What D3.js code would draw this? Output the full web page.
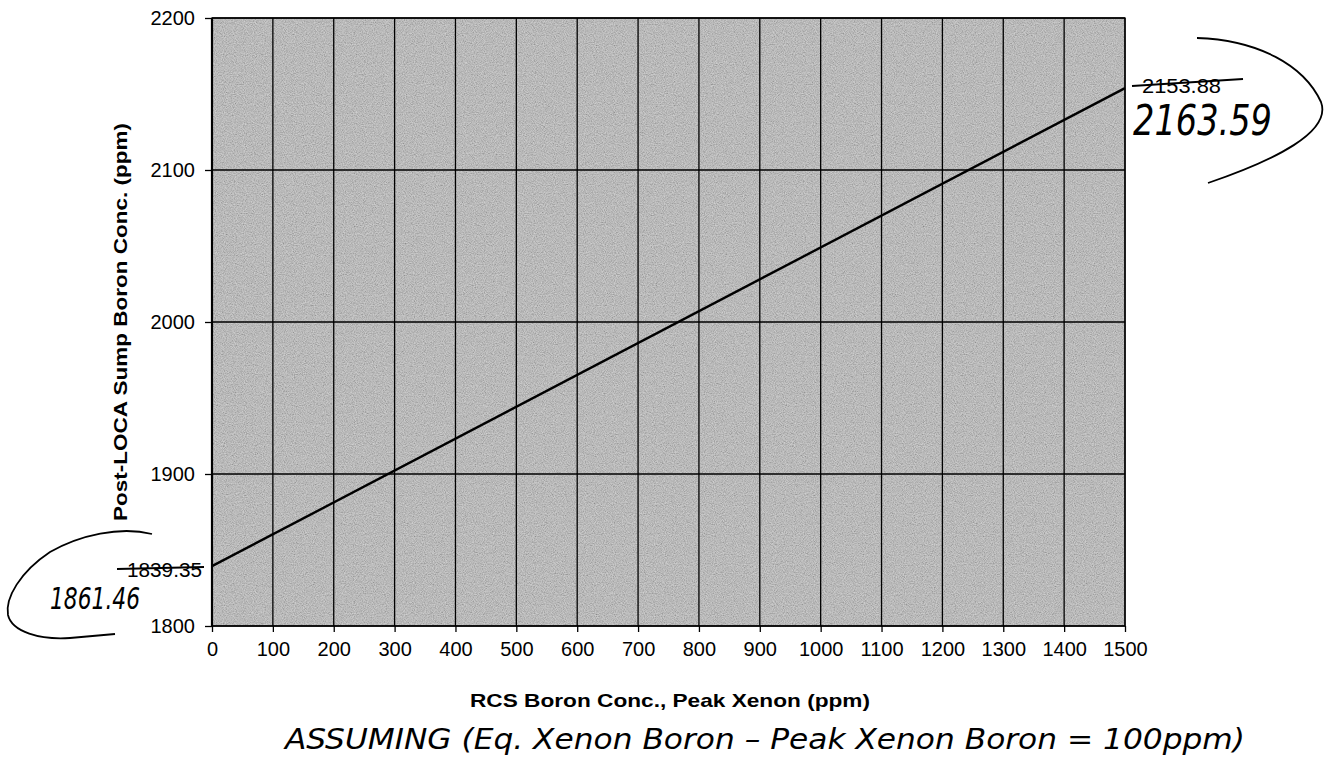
<!DOCTYPE html>
<html>
<head>
<meta charset="utf-8">
<script src="https://cdn.jsdelivr.net/npm/d3@7"></script>
<style>
  html, body { margin: 0; padding: 0; background: #ffffff; }
  svg { display: block; }
</style>
</head>
<body>
<svg id="chart" width="1325" height="776"></svg>
<script>
// ---- data ----
const rcsBoron = [0, 1500];                 // x: RCS Boron Conc., Peak Xenon (ppm)
const sumpBoron = [1839.35, 2153.88];       // y: Post-LOCA Sump Boron Conc. (ppm)
const xTicks = [0,100,200,300,400,500,600,700,800,900,1000,1100,1200,1300,1400,1500];
const yTicks = [1800,1900,2000,2100,2200];
const xTitle = "RCS Boron Conc., Peak Xenon (ppm)";
const yTitle = "Post-LOCA Sump Boron Conc. (ppm)";
const endLabels = ["1839.35", "2153.88"];     // printed end values (struck out)
const handLabels = ["1861.46", "2163.59"];    // handwritten corrections
const note = "ASSUMING (Eq. Xenon Boron \u2013 Peak Xenon Boron = 100ppm)";

// ---- layout ----
const svg = d3.select("#chart");
const L = 212, R = 1125, T = 18, B = 626;
const x = d3.scaleLinear().domain([0, 1500]).range([L, R]);
const y = d3.scaleLinear().domain([1800, 2200]).range([B, T]);
const font = "'Liberation Sans', Arial, Helvetica, sans-serif";
const hand = "'DejaVu Sans', 'Liberation Sans', sans-serif";

// scanned-halftone look for the plot area
const defs = svg.append("defs");
const f = defs.append("filter").attr("id", "grain")
  .attr("x", 0).attr("y", 0).attr("width", 1).attr("height", 1)
  .attr("filterUnits", "objectBoundingBox");
f.append("feTurbulence").attr("type", "fractalNoise")
  .attr("baseFrequency", 0.9).attr("numOctaves", 2).attr("seed", 7);
f.append("feColorMatrix").attr("type", "matrix")
  .attr("values", "1 0 0 0 0  1 0 0 0 0  1 0 0 0 0  0 0 0 0 1");

svg.append("rect")
  .attr("x", L).attr("y", T).attr("width", R - L).attr("height", B - T)
  .attr("fill", "#b8b8b8");
svg.append("rect")
  .attr("x", L).attr("y", T).attr("width", R - L).attr("height", B - T)
  .attr("filter", "url(#grain)").attr("opacity", 0.45);

// gridlines
const g = svg.append("g");
g.selectAll("line.vx").data(xTicks).join("line")
  .attr("x1", d => x(d)).attr("x2", d => x(d))
  .attr("y1", T).attr("y2", B)
  .attr("stroke", "#000").attr("stroke-width", 1.3);
g.selectAll("line.hy").data(yTicks).join("line")
  .attr("x1", L).attr("x2", R)
  .attr("y1", d => y(d)).attr("y2", d => y(d))
  .attr("stroke", "#000").attr("stroke-width", 1.3);

// border
svg.append("rect")
  .attr("x", L).attr("y", T).attr("width", R - L).attr("height", B - T)
  .attr("fill", "none").attr("stroke", "#000").attr("stroke-width", 1.3);
svg.append("line").attr("x1", L).attr("x2", L).attr("y1", T).attr("y2", B)
  .attr("stroke", "#000").attr("stroke-width", 2.2);

// axes
const xAxis = svg.append("g").attr("transform", `translate(0,${B})`)
  .call(d3.axisBottom(x).tickValues(xTicks).tickFormat(d3.format("d")).tickSizeInner(6).tickSizeOuter(0).tickPadding(20));
const yAxis = svg.append("g").attr("transform", `translate(${L},0)`)
  .call(d3.axisLeft(y).tickValues(yTicks).tickFormat(d3.format("d")).tickSizeInner(7).tickSizeOuter(0).tickPadding(10));
[xAxis, yAxis].forEach(a => {
  a.select(".domain").remove();
  a.selectAll(".tick line").attr("stroke", "#000").attr("stroke-width", 1.3);
  a.selectAll(".tick text").attr("fill", "#000").style("font-family", font).style("font-size", "20px");
});
xAxis.selectAll(".tick text").attr("dy", "0.2em");

// data line
svg.append("path")
  .datum(rcsBoron.map((d, i) => [d, sumpBoron[i]]))
  .attr("d", d3.line().x(d => x(d[0])).y(d => y(d[1])))
  .attr("fill", "none").attr("stroke", "#000").attr("stroke-width", 2.4);

// axis titles
svg.append("text")
  .attr("x", 470).attr("y", 707)
  .attr("textLength", 400).attr("lengthAdjust", "spacingAndGlyphs")
  .style("font-family", font).style("font-size", "18.5px").style("font-weight", "bold")
  .text(xTitle);
svg.append("text")
  .attr("transform", "translate(127,322) rotate(-90)")
  .attr("text-anchor", "middle")
  .attr("textLength", 398).attr("lengthAdjust", "spacingAndGlyphs")
  .style("font-family", font).style("font-size", "18.5px").style("font-weight", "bold")
  .text(yTitle);

// printed end labels (struck out)
const endPos = [
  {x: 127, y: 577, w: 75, s: [117, 569, 204, 567]},
  {x: 1142, y: 93, w: 79, s: [1132, 86, 1243, 79]}
];
endLabels.forEach((t, i) => {
  const p = endPos[i];
  svg.append("text").attr("x", p.x).attr("y", p.y)
    .attr("textLength", p.w).attr("lengthAdjust", "spacingAndGlyphs")
    .style("font-family", font).style("font-size", "20px").text(t);
  svg.append("line").attr("x1", p.s[0]).attr("y1", p.s[1]).attr("x2", p.s[2]).attr("y2", p.s[3])
    .attr("stroke", "#000").attr("stroke-width", 1.8);
});

// handwritten corrections
const handPos = [
  {x: 50, y: 609, w: 90, fs: 30},
  {x: 1133, y: 135, w: 139, fs: 42}
];
handLabels.forEach((t, i) => {
  const p = handPos[i];
  svg.append("text").attr("x", p.x).attr("y", p.y)
    .attr("textLength", p.w).attr("lengthAdjust", "spacingAndGlyphs")
    .style("font-family", hand).style("font-style", "italic")
    .style("font-size", p.fs + "px").text(t);
});

// handwritten brackets
svg.append("path")
  .attr("d", "M152,534 C120,526 80,535 50,552 C20,572 5,598 8,615 C12,632 40,640 70,638 L115,634")
  .attr("fill", "none").attr("stroke", "#000").attr("stroke-width", 1.8);
svg.append("path")
  .attr("d", "M1197,38 C1258,40 1304,65 1321,102 C1332,132 1275,160 1208,183")
  .attr("fill", "none").attr("stroke", "#000").attr("stroke-width", 1.8);

// handwritten note
svg.append("text").attr("x", 285).attr("y", 749)
  .attr("textLength", 960).attr("lengthAdjust", "spacingAndGlyphs")
  .style("font-family", hand).style("font-style", "italic")
  .style("font-size", "28px").text(note);
</script>
</body>
</html>
